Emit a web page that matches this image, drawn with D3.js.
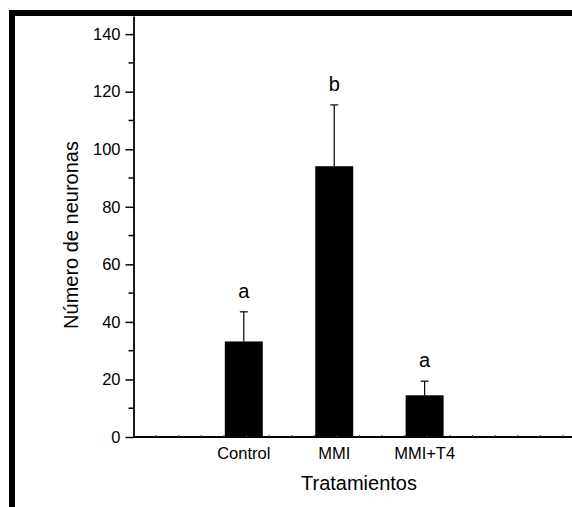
<!DOCTYPE html>
<meta charset="utf-8">
<html>
<head>
  <title>Número de neuronas por tratamiento</title>
  <script src="https://cdn.jsdelivr.net/npm/d3@7"></script>
  <style>
    body { margin: 0; background: #fff; }
    svg text { font-family: "Liberation Sans", Arial, sans-serif; fill: #000; }
  </style>
</head>
<body>
  <svg id="svg" width="572" height="507"></svg>
  <script>
    // data
    var categories = ["Control", "MMI", "MMI+T4"];
    var positions = [1, 2, 3];
    var means = [33.2, 94.1, 14.5];
    var errors = [10.3, 21.3, 4.9];
    var letters = ["a", "b", "a"];
    var yTicks = [0, 20, 40, 60, 80, 100, 120, 140];

    var svg = d3.select("#svg");

    var x = d3.scaleLinear().domain([-0.22, 4.63]).range([133.5, 572]);
    var y = d3.scaleLinear().domain([0, 146.3]).range([437, 16]);
    var barW = x(0.42) - x(0);

    // outer frame (thick black lines on top and left)
    svg.append("rect").attr("x", 9).attr("y", 10).attr("width", 563).attr("height", 6).attr("fill", "#000");
    svg.append("rect").attr("x", 9).attr("y", 10).attr("width", 6).attr("height", 497).attr("fill", "#000");

    // bars
    svg.append("g").selectAll("rect")
      .data(means)
      .enter()
      .append("rect")
      .attr("x", function (d, i) { return x(positions[i]) - barW / 2; })
      .attr("y", function (d) { return y(d); })
      .attr("width", barW)
      .attr("height", function (d) { return y(0) - y(d); })
      .attr("fill", "#000");

    // upper error bars
    var err = svg.append("g").attr("stroke", "#000").attr("stroke-width", 1.2);
    means.forEach(function (m, i) {
      var cx = x(positions[i]);
      err.append("line").attr("x1", cx).attr("x2", cx).attr("y1", y(m)).attr("y2", y(m + errors[i]));
      err.append("line").attr("x1", cx - 4).attr("x2", cx + 4).attr("y1", y(m + errors[i])).attr("y2", y(m + errors[i]));
    });

    // significance letters
    svg.append("g").selectAll("text")
      .data(letters)
      .enter()
      .append("text")
      .attr("x", function (d, i) { return x(positions[i]); })
      .attr("y", function (d, i) { return y(means[i] + errors[i]) - 14; })
      .attr("text-anchor", "middle")
      .style("font-size", "20px")
      .text(function (d) { return d; });

    // y axis
    var yAxis = svg.append("g")
      .attr("transform", "translate(133.5,0)")
      .call(d3.axisLeft(y).tickValues(yTicks).tickSize(8).tickPadding(5).tickSizeOuter(0));
    yAxis.selectAll("text").style("font-size", "16.5px");
    yAxis.selectAll("line").attr("stroke-width", 1.5);
    yAxis.select(".domain").attr("stroke-width", 1.8);
    yAxis.selectAll(".minor")
      .data(yTicks.slice(0, -1).map(function (t) { return t + 10; }))
      .enter()
      .append("line")
      .attr("class", "minor")
      .attr("x1", -5).attr("x2", 0)
      .attr("y1", function (d) { return y(d); })
      .attr("y2", function (d) { return y(d); })
      .attr("stroke", "#000").attr("stroke-width", 1.5);

    // x axis with small minor ticks
    var xAxis = svg.append("g").attr("transform", "translate(0," + y(0) + ")");
    xAxis.append("line").attr("x1", 133).attr("x2", 572).attr("stroke", "#000").attr("stroke-width", 1.8);
    xAxis.selectAll(".minor")
      .data(d3.range(1, 20).map(function (k) { return -0.22 + k * 0.25; }))
      .enter()
      .append("line")
      .attr("class", "minor")
      .attr("x1", function (d) { return x(d); })
      .attr("x2", function (d) { return x(d); })
      .attr("y1", -2).attr("y2", 0)
      .attr("stroke", "#333").attr("stroke-width", 1);
    xAxis.selectAll(".lbl")
      .data(categories)
      .enter()
      .append("text")
      .attr("class", "lbl")
      .attr("x", function (d, i) { return x(positions[i]); })
      .attr("y", 22)
      .attr("text-anchor", "middle")
      .style("font-size", "16.5px")
      .text(function (d) { return d; });

    // axis titles
    svg.append("text")
      .attr("x", 359)
      .attr("y", 490)
      .attr("text-anchor", "middle")
      .style("font-size", "20px")
      .text("Tratamientos");

    svg.append("text")
      .attr("transform", "translate(78,235) rotate(-90)")
      .attr("text-anchor", "middle")
      .style("font-size", "20px")
      .text("Número de neuronas");
  </script>
</body>
</html>
